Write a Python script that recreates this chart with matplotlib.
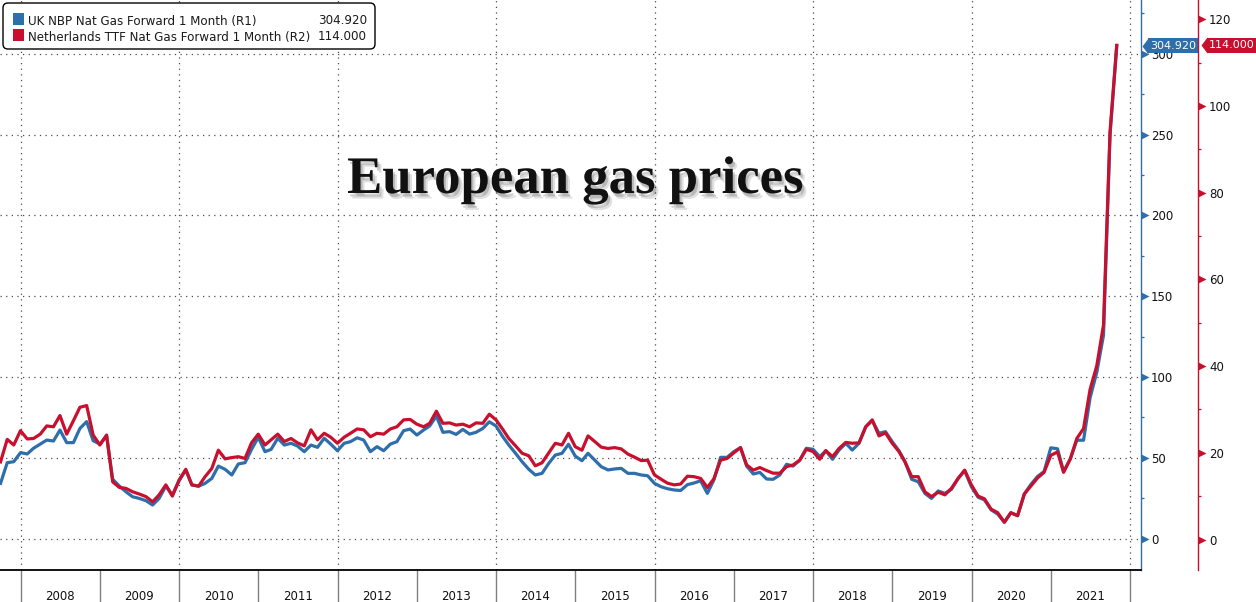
import datetime as dt
import numpy as np
import pandas as pd
import matplotlib
matplotlib.use('Agg')
import matplotlib.pyplot as plt
import matplotlib.dates as mdates
import matplotlib.patheffects as pe
from matplotlib.patches import FancyBboxPatch, Rectangle
from matplotlib.transforms import blended_transform_factory
from matplotlib.ticker import FixedLocator, NullFormatter

# ---------------- data (monthly, month-end) ----------------
dates = pd.date_range('2007-10-01', periods=170, freq='MS') - pd.Timedelta(days=1)

nbp = [34.2, 47.0, 47.6, 53.2, 52.4, 55.9, 58.5, 61.0, 60.4, 67.2,
       59.4, 59.4, 68.2, 72.4, 60.6, 58.5, 63.5, 36.7, 32.5, 29.0,
       25.9, 24.9, 23.5, 20.8, 24.9, 32.5, 27.0, 35.8, 42.4, 33.2,
       32.5, 34.2, 37.3, 44.9, 42.9, 39.4, 46.2, 47.0, 55.2, 62.7,
       53.8, 55.2, 62.1, 57.9, 59.0, 57.3, 53.8, 57.9, 56.5, 62.1,
       58.5, 54.4, 59.0, 60.0, 62.4, 61.0, 53.8, 56.9, 54.4, 58.5,
       60.0, 66.8, 67.8, 64.1, 67.2, 69.7, 75.9, 65.8, 66.2, 64.5,
       67.6, 64.7, 65.8, 68.2, 72.3, 69.7, 63.1, 57.9, 52.8, 47.6,
       42.9, 39.4, 40.4, 46.6, 51.7, 52.8, 58.4, 51.1, 48.2, 52.8,
       48.6, 44.5, 42.5, 43.1, 43.5, 40.4, 40.4, 39.4, 38.9, 34.2,
       32.1, 30.9, 30.1, 29.8, 33.4, 34.4, 35.8, 28.0, 36.3, 50.3,
       50.3, 53.8, 56.3, 44.9, 40.0, 41.0, 36.9, 36.7, 39.4, 46.0,
       44.9, 48.6, 55.9, 55.3, 50.7, 54.4, 49.1, 54.8, 59.0, 54.8,
       59.0, 69.2, 73.0, 65.2, 66.2, 60.0, 54.4, 47.6, 36.7, 35.2,
       28.0, 24.9, 29.5, 28.0, 30.5, 37.3, 42.0, 32.1, 25.6, 24.0,
       17.8, 15.2, 10.1, 15.9, 14.2, 27.6, 33.5, 38.5, 41.5, 56.2,
       55.6, 41.5, 49.3, 60.9, 60.9, 87.1, 102.9, 125.9, 249.6, 304.92]

ttf = [17.9, 23.1, 21.8, 25.1, 23.2, 23.3, 24.3, 26.2, 26.0, 28.6,
       24.3, 27.4, 30.5, 30.9, 24.1, 21.8, 24.1, 13.3, 12.0, 11.8,
       11.0, 10.5, 9.9, 8.7, 10.3, 12.6, 10.0, 13.7, 16.2, 12.6,
       12.3, 14.5, 16.4, 20.6, 18.6, 18.9, 19.1, 18.7, 22.3, 24.3,
       21.8, 23.0, 24.3, 22.6, 23.3, 22.3, 21.6, 25.3, 23.0, 24.5,
       23.6, 22.2, 23.6, 24.5, 25.5, 25.3, 23.7, 24.5, 24.3, 25.5,
       26.0, 27.6, 27.7, 26.6, 26.0, 26.8, 29.6, 26.8, 26.9, 26.4,
       26.6, 26.0, 26.9, 26.8, 28.9, 27.6, 25.4, 23.3, 21.6, 19.9,
       19.3, 17.0, 17.7, 20.0, 22.2, 21.8, 24.5, 21.4, 20.6, 23.9,
       22.6, 21.3, 21.0, 21.2, 20.9, 19.7, 19.0, 18.2, 18.3, 14.9,
       13.9, 13.0, 12.6, 12.8, 14.6, 14.5, 14.1, 12.0, 14.0, 18.3,
       18.7, 20.0, 21.2, 17.2, 16.0, 16.6, 15.9, 15.3, 15.3, 16.8,
       17.2, 18.3, 20.8, 20.3, 18.5, 20.5, 19.1, 21.0, 22.4, 22.2,
       22.3, 26.0, 27.6, 23.9, 24.6, 22.2, 20.3, 17.9, 14.5, 14.5,
       11.0, 9.9, 10.9, 10.3, 11.8, 14.1, 16.0, 12.6, 10.0, 9.4,
       7.0, 6.2, 4.0, 6.2, 5.5, 10.5, 12.3, 14.2, 15.5, 19.4,
       20.2, 15.5, 18.6, 23.3, 25.6, 34.6, 40.1, 49.5, 94.0, 114.0]

nbp_label = 'UK NBP Nat Gas Forward 1 Month (R1)'
ttf_label = 'Netherlands TTF Nat Gas Forward 1 Month (R2)'
title = 'European gas prices'
r1_ticks = [0, 50, 100, 150, 200, 250, 300]
r1_minor = [25, 75, 125, 175, 225, 275, 325]
r2_ticks = [0, 20, 40, 60, 80, 100, 120]
r2_minor = [10, 30, 50, 70, 90, 110]
grid_years = [2008, 2010, 2012, 2014, 2016, 2018, 2020, 2022]

# ---------------- style ----------------
BLUE = '#2e6eaa'
RED = '#c8102e'
W, H = 1256, 602
plt.rcParams['font.family'] = ['DejaVu Sans']

fig = plt.figure(figsize=(W / 100, H / 100), dpi=100, facecolor='white')
ax1 = fig.add_axes([0, (H - 569.5) / H, 1141 / W, 569.5 / H])
ax2 = ax1.twinx()

ax1.plot(dates, nbp, color=BLUE, lw=2.3, solid_joinstyle='round', zorder=3)
ax2.plot(dates, ttf, color=RED, lw=2.3, solid_joinstyle='round', zorder=3)

x0 = mdates.date2num(dt.datetime(2008, 1, 1)) - 95.4
x1 = mdates.date2num(dt.datetime(2022, 1, 1)) + 49.8
ax1.set_xlim(x0, x1)
ax1.set_ylim(-19.1, 333.3)
ax2.set_ylim(-6.92, 124.45)

# grid
dotted = (0, (1, 3.5))
for yv in r1_ticks:
    ax1.axhline(yv, color='#4d4d4d', lw=0.9, ls=dotted, zorder=1)
for yr in grid_years:
    ax1.axvline(mdates.date2num(dt.datetime(yr, 1, 1)), color='#4d4d4d', lw=0.9, ls=dotted, zorder=1)

# spines
for s in ['top', 'left']:
    ax1.spines[s].set_visible(False)
ax1.spines['right'].set_color(BLUE)
ax1.spines['right'].set_linewidth(1.0)
ax1.spines['bottom'].set_color('black')
ax1.spines['bottom'].set_linewidth(1.3)
for s in ['top', 'left', 'bottom']:
    ax2.spines[s].set_visible(False)
ax2.spines['right'].set_position(('axes', 1198 / 1141))
ax2.spines['right'].set_color(RED)
ax2.spines['right'].set_linewidth(1.0)

# x axis: year separators + centred labels
ax1.xaxis.set_major_locator(mdates.YearLocator(1))
ax1.xaxis.set_major_formatter(NullFormatter())
ax1.xaxis.set_minor_locator(mdates.MonthLocator(bymonth=7, bymonthday=1))
ax1.xaxis.set_minor_formatter(mdates.DateFormatter('%Y'))
ax1.tick_params(axis='x', which='major', length=23.8, width=1.0, color='#808080', direction='out')
ax1.tick_params(axis='x', which='minor', length=0, pad=14.5, labelsize=8.5, labelcolor='#111111')

# y axis R1
ax1.yaxis.tick_right()
ax1.yaxis.set_major_locator(FixedLocator(r1_ticks))
ax1.yaxis.set_minor_locator(FixedLocator(r1_minor))
ax1.tick_params(axis='y', which='major', length=0, pad=7.2, labelsize=8.5, labelcolor='#111111')
ax1.tick_params(axis='y', which='minor', length=2.4, width=0.9, color=BLUE, direction='out')
tr1 = blended_transform_factory(ax1.transAxes, ax1.transData)
ax1.plot([1 + 3.8 / 1141] * len(r1_ticks), r1_ticks, ls='none', marker='>', ms=5.5,
         mfc=BLUE, mec='none', transform=tr1, clip_on=False, zorder=5)

# y axis R2
ax2.yaxis.set_major_locator(FixedLocator(r2_ticks))
ax2.yaxis.set_minor_locator(FixedLocator(r2_minor))
ax2.tick_params(axis='y', which='major', length=0, pad=7.9, labelsize=8.5, labelcolor='#111111')
ax2.tick_params(axis='y', which='minor', length=2.4, width=0.9, color=RED, direction='out')
tr2 = blended_transform_factory(ax2.transAxes, ax2.transData)
ax2.plot([(1198 + 3.8) / 1141] * len(r2_ticks), r2_ticks, ls='none', marker='>', ms=5.5,
         mfc=RED, mec='none', transform=tr2, clip_on=False, zorder=5)

# last-value boxes
arrow = [(-0.75, 0), (0, 1), (0, -1), (-0.75, 0)]
pad_px = 0.22 * 8 * 100 / 72
ax1.text(1150 / 1141, nbp[-1], f'{nbp[-1]:.3f}', transform=tr1, ha='left', va='center',
         color='white', fontsize=8, clip_on=False, zorder=20,
         bbox=dict(boxstyle='square,pad=0.22', fc=BLUE, ec='none'))
ax1.plot([(1150 - pad_px) / 1141], [nbp[-1]], marker=arrow, ms=11.5, mfc=BLUE, mec='none',
         ls='none', transform=tr1, clip_on=False, zorder=20)
ax2.text(1209 / 1141, ttf[-1], f'{ttf[-1]:.3f}', transform=tr2, ha='left', va='center',
         color='white', fontsize=8, clip_on=False, zorder=20,
         bbox=dict(boxstyle='square,pad=0.22', fc=RED, ec='none'))
ax2.plot([(1209 - pad_px) / 1141], [ttf[-1]], marker=arrow, ms=11.5, mfc=RED, mec='none',
         ls='none', transform=tr2, clip_on=False, zorder=20)

# legend box (manual, in inches)
inch = fig.dpi_scale_trans
def px(x, y):
    return (x / 100, (H - y) / 100)

box = FancyBboxPatch(px(3, 49), 3.72, 0.46, boxstyle='round,pad=0,rounding_size=0.05',
                     transform=inch, fc='white', ec='black', lw=1.0, zorder=30)
fig.add_artist(box)
rows = [(nbp_label, nbp[-1], BLUE, 24.5), (ttf_label, ttf[-1], RED, 40.5)]
for lab, val, col, base in rows:
    sq = Rectangle(px(12.5, base), 0.115, 0.115, transform=inch, fc=col, ec='none', zorder=31)
    fig.add_artist(sq)
    fig.text(*px(28, base), lab, transform=inch, ha='left', va='baseline',
             fontsize=8.6, color='#1a1a1a', zorder=32)
    fig.text(*px(367, base), f'{val:.3f}', transform=inch, ha='right', va='baseline',
             fontsize=8.6, color='#1a1a1a', zorder=32)

# title with soft shadow
fig.text(575 / W, (H - 193) / H, title, ha='center', va='baseline', fontsize=38,
         fontweight='bold', family='Liberation Serif', color='#111111',
         path_effects=[pe.SimplePatchShadow(offset=(1.5, -2.5), shadow_rgbFace='black', alpha=0.18),
                       pe.SimplePatchShadow(offset=(3, -4), shadow_rgbFace='black', alpha=0.12),
                       pe.Normal()])

fig.savefig('out.png', dpi=100, facecolor='white')
